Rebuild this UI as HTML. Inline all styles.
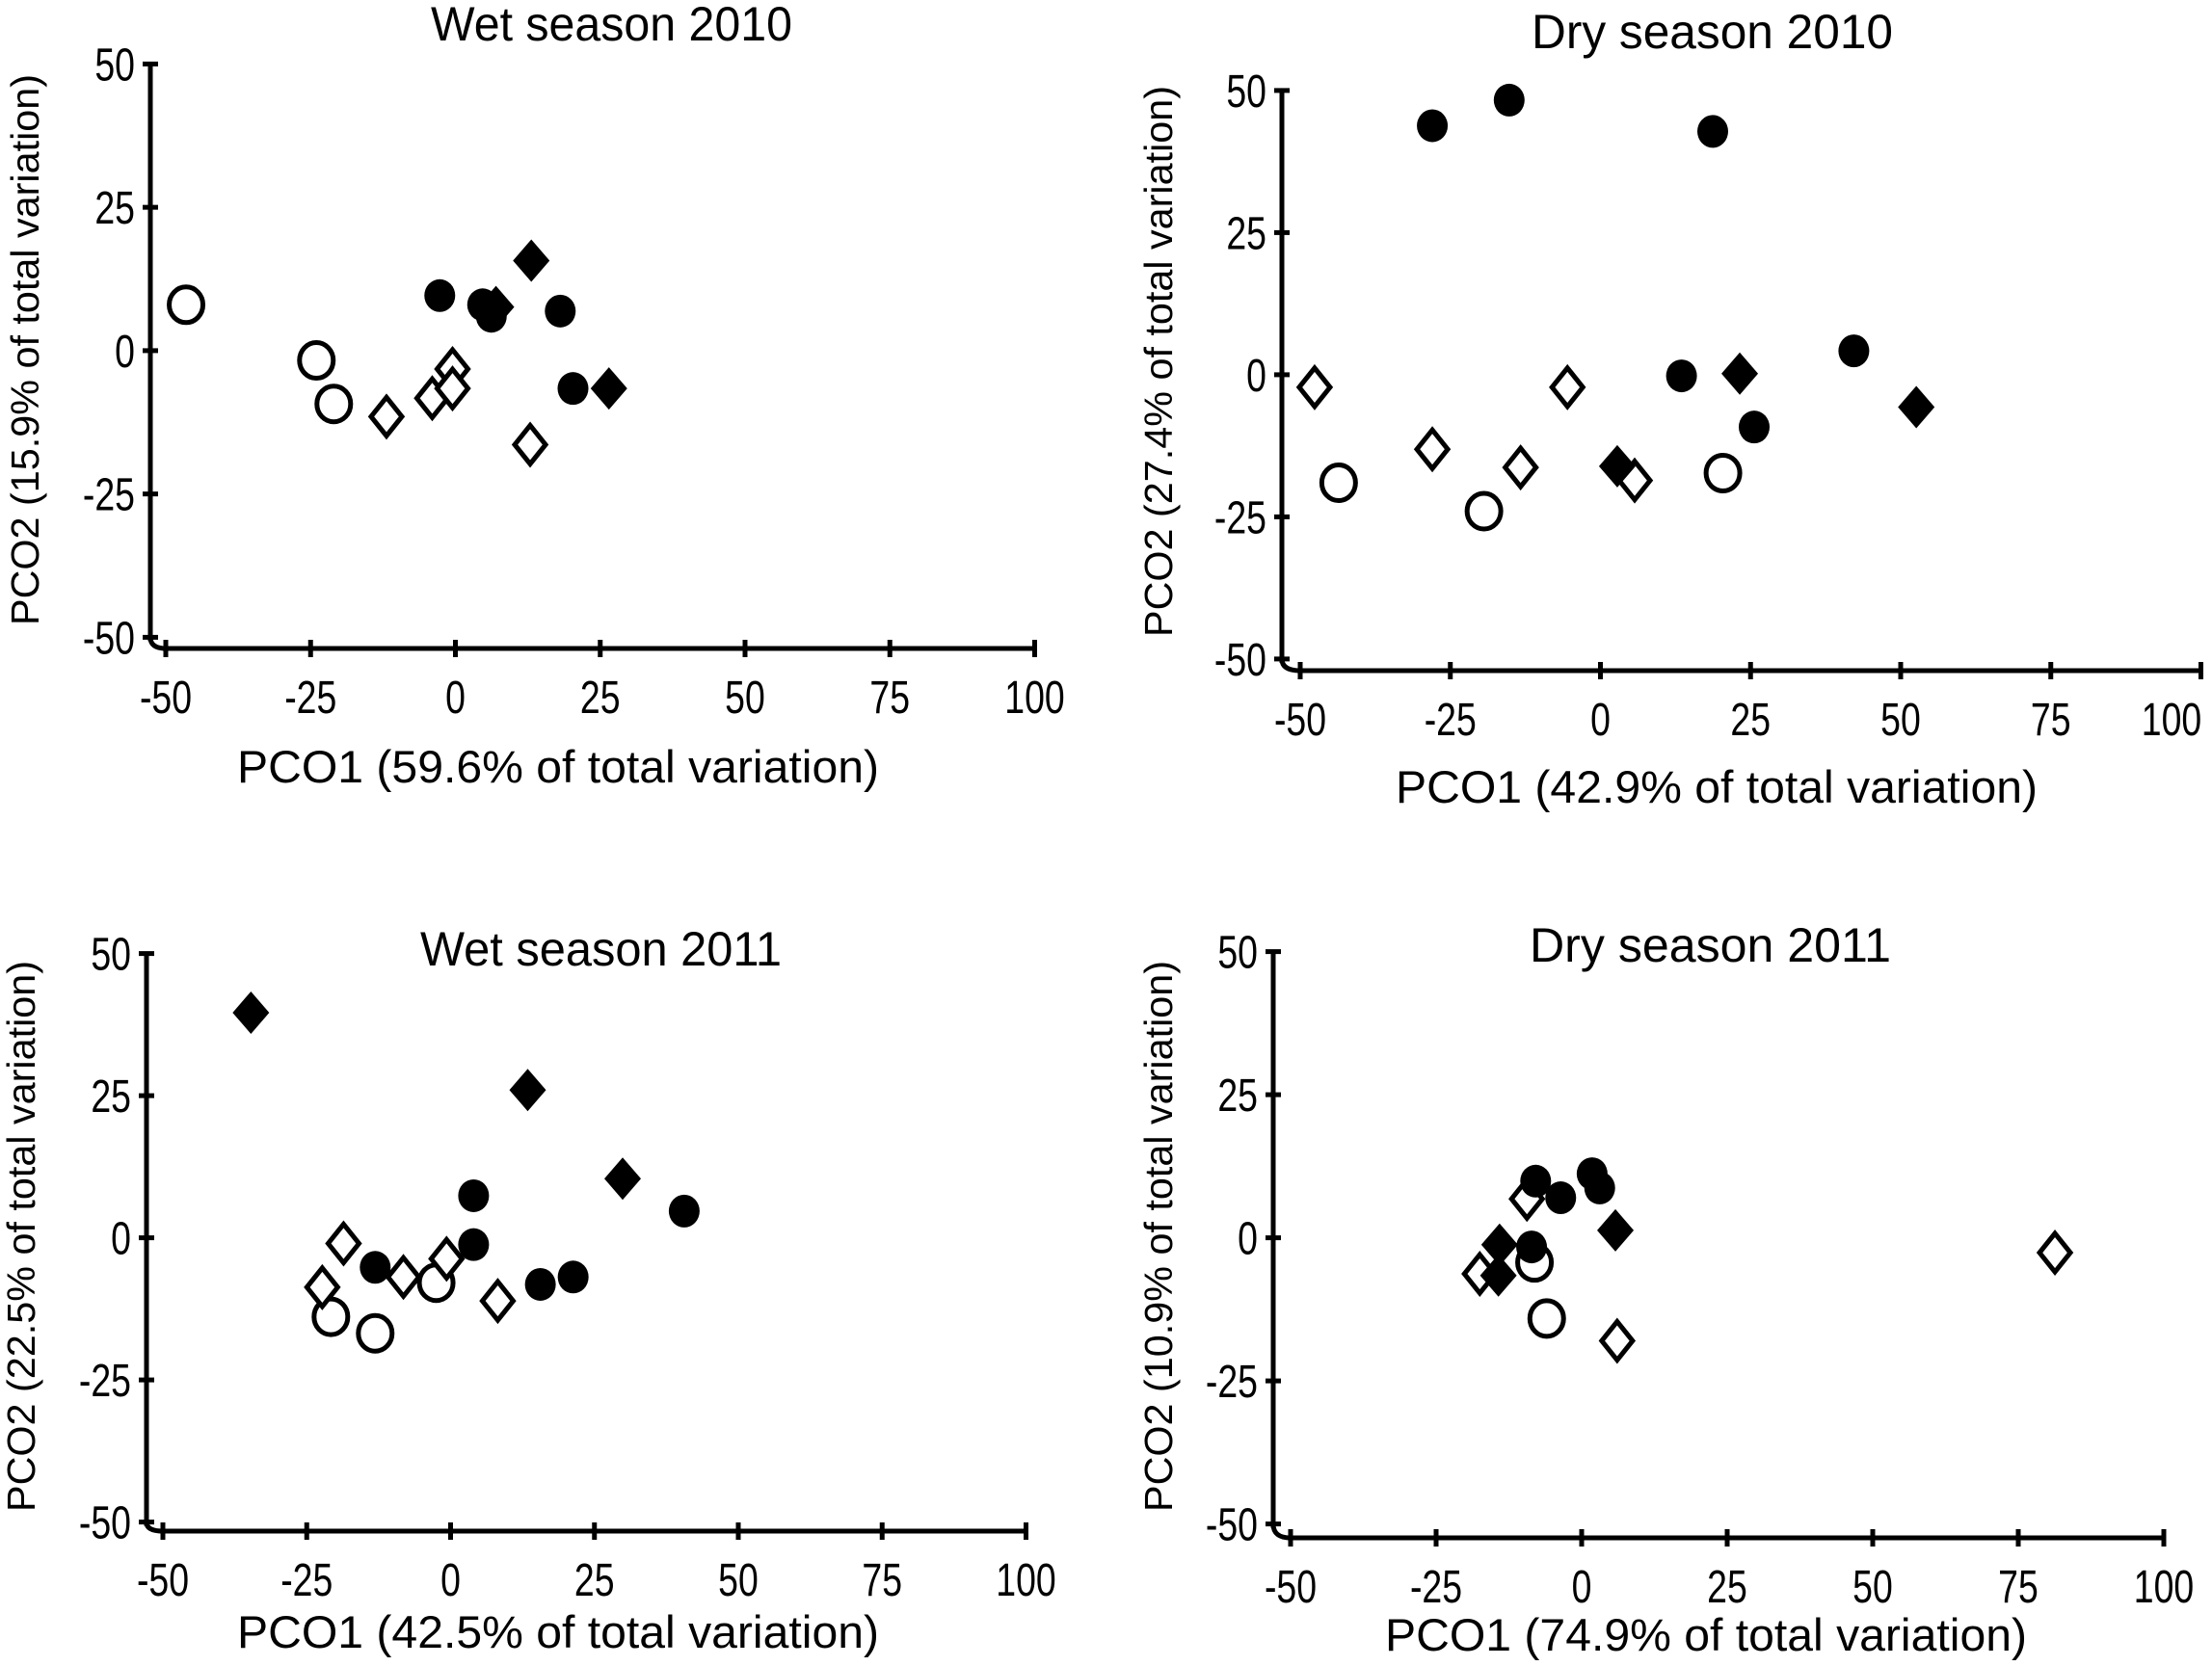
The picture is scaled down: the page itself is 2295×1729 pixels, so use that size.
<!DOCTYPE html>
<html><head><meta charset="utf-8"><style>
html,body{margin:0;padding:0;background:#fff;}
svg{display:block;}
text{font-family:"Liberation Sans",sans-serif;fill:#000;}
</style></head><body>
<svg id="fig" width="2295" height="1729" viewBox="0 0 2295 1729" xmlns="http://www.w3.org/2000/svg"></svg>
<script>
const xTicks = [-50,-25,0,25,50,75,100];
const yTicks = [50,25,0,-25,-50];
const panelTitles = ["Wet season 2010","Dry season 2010","Wet season 2011","Dry season 2011"];
const xTitles = ["PCO1 (59.6% of total variation)","PCO1 (42.9% of total variation)","PCO1 (42.5% of total variation)","PCO1 (74.9% of total variation)"];
const yTitles = ["PCO2 (15.9% of total variation)","PCO2 (27.4% of total variation)","PCO2 (22.5% of total variation)","PCO2 (10.9% of total variation)"];

// Wet 2010
const w10OpenCircleX = [-46.5,-24,-21];
const w10OpenCircleY = [8,-1.7,-9.3];
const w10OpenDiamondX = [-11.9,-4,-0.5,-0.5,12.9];
const w10OpenDiamondY = [-11.5,-8.3,-3.2,-6.6,-16.4];
const w10FilledCircleX = [-2.7,4.7,6.2,18.1,20.3];
const w10FilledCircleY = [9.6,8,6,6.9,-6.6];
const w10FilledDiamondX = [13.1,7,26.5];
const w10FilledDiamondY = [15.7,7.6,-6.6];
// Dry 2010
const d10OpenCircleX = [-43.6,-19.4,20.4];
const d10OpenCircleY = [-19,-24,-17.3];
const d10OpenDiamondX = [-47.6,-28,-13.3,-5.5,5.7];
const d10OpenDiamondY = [-2.2,-13.1,-16.3,-2.2,-18.6];
const d10FilledCircleX = [-28,-15.2,18.7,13.5,25.6,42.2];
const d10FilledCircleY = [43.8,48.3,42.8,-0.2,-9.2,4.2];
const d10FilledDiamondX = [23.2,52.6,2.8];
const d10FilledDiamondY = [0.2,-5.7,-16.1];
// Wet 2011
const w11OpenCircleX = [-20.8,-13.1,-2.5];
const w11OpenCircleY = [-13.9,-16.8,-7.9];
const w11OpenDiamondX = [-18.6,-22.3,-8.2,-0.7,8.2];
const w11OpenDiamondY = [-1,-8.7,-6.9,-3.7,-11.1];
const w11FilledCircleX = [40.6,4,4,-13.1,15.6,21.3];
const w11FilledCircleY = [4.7,7.4,-1.2,-5.2,-8.2,-6.9];
const w11FilledDiamondX = [-34.7,13.4,29.9];
const w11FilledDiamondY = [39.6,26,10.4];
// Dry 2011
const d11OpenCircleX = [-8.1,-6];
const d11OpenCircleY = [-4.3,-14.1];
const d11OpenDiamondX = [-9.4,-17.5,6.1,81.3];
const d11OpenDiamondY = [6.8,-6.3,-18,-2.6];
const d11FilledCircleX = [-7.9,-3.6,1.8,3.1,-8.6];
const d11FilledCircleY = [9.9,7.0,11.2,8.7,-1.6];
const d11FilledDiamondX = [5.8,-14.1,-14.3];
const d11FilledDiamondY = [1.3,-1.2,-6.6];

const NS = "http://www.w3.org/2000/svg";
const svg = document.getElementById("fig");
function mk(tag, attrs, parent){
  const e = document.createElementNS(NS, tag);
  for (const k in attrs) e.setAttribute(k, attrs[k]);
  (parent||svg).appendChild(e);
  return e;
}
const layouts = [
  {ax:156, xm:172, sx:6.01, y0:363.9, sy:5.95, xay:673, tx:634, ty:25, xtx:579, xty:796, ytx:26, yty:363},
  {ax:1330, xm:1349, sx:6.23, y0:388.9, sy:5.9, xay:696, tx:1776, ty:33, xtx:1781, xty:817, ytx:1202, yty:375},
  {ax:152, xm:169, sx:5.97, y0:1284.6, sy:5.9, xay:1589, tx:623, ty:985, xtx:579, xty:1694, ytx:22, yty:1283},
  {ax:1321, xm:1339, sx:6.04, y0:1284.6, sy:5.94, xay:1596, tx:1774, ty:981, xtx:1770, xty:1697, ytx:1202, yty:1283}
];
const series = [
  [w10OpenCircleX,w10OpenCircleY,w10OpenDiamondX,w10OpenDiamondY,w10FilledCircleX,w10FilledCircleY,w10FilledDiamondX,w10FilledDiamondY],
  [d10OpenCircleX,d10OpenCircleY,d10OpenDiamondX,d10OpenDiamondY,d10FilledCircleX,d10FilledCircleY,d10FilledDiamondX,d10FilledDiamondY],
  [w11OpenCircleX,w11OpenCircleY,w11OpenDiamondX,w11OpenDiamondY,w11FilledCircleX,w11FilledCircleY,w11FilledDiamondX,w11FilledDiamondY],
  [d11OpenCircleX,d11OpenCircleY,d11OpenDiamondX,d11OpenDiamondY,d11FilledCircleX,d11FilledCircleY,d11FilledDiamondX,d11FilledDiamondY]
];

layouts.forEach((L, i) => {
  const g = mk("g", {});
  
  
  const X = v => L.xm + (v + 50) * L.sx;
  const Y = v => L.y0 - v * L.sy;

  const t = mk("text", {x:L.tx-187, y:L.ty+17, "font-size":50, textLength:375, lengthAdjust:"spacingAndGlyphs"}, g);
  t.textContent = panelTitles[i];
  
  

  const ya = mk("line", {x1:L.ax, y1:Y(50), x2:L.ax, y2:Y(-50)+4, stroke:"#000", "stroke-width":5}, g);
  
  
  const xa = mk("line", {x1:L.xm-3, y1:L.xay, x2:X(100), y2:L.xay, stroke:"#000", "stroke-width":5}, g);
  
  
  mk("path", {d:`M${L.ax} ${Y(-50)} Q${L.ax} ${L.xay} ${L.xm} ${L.xay}`, stroke:"#000", "stroke-width":5, fill:"none"}, g);

  yTicks.forEach(v => {
    const tk = mk("line", {x1:L.ax-8, y1:Y(v), x2:L.ax+8, y2:Y(v), stroke:"#000", "stroke-width":5}, g);
    
    
    const lb = mk("text", {x:0, y:0, "text-anchor":"end", "font-size":48, transform:`translate(${L.ax-16},${Y(v)+17}) scale(0.78,1)`}, g);
    lb.textContent = v;
    
    
  });
  xTicks.forEach(v => {
    const tk = mk("line", {x1:X(v), y1:L.xay-9, x2:X(v), y2:L.xay+9, stroke:"#000", "stroke-width":5}, g);
    
    
    const lx = Math.min(X(v), 2293 - 40);
    const lb = mk("text", {x:0, y:0, "text-anchor":"middle", "font-size":48, transform:`translate(${lx},${L.xay+67}) scale(0.78,1)`}, g);
    lb.textContent = v;
    
    
  });

  const xt = mk("text", {x:L.xtx-333, y:L.xty+16, "font-size":47, textLength:666, lengthAdjust:"spacingAndGlyphs"}, g);
  xt.textContent = xTitles[i];
  
  
  const yt = mk("text", {x:-286, y:0, "font-size":41, textLength:572, lengthAdjust:"spacingAndGlyphs", transform:`translate(${L.ytx+14},${L.yty}) rotate(-90)`}, g);
  yt.textContent = yTitles[i];
  
  

  const S = series[i];
  S[0].forEach((v, k) => {
    const m = mk("ellipse", {cx:X(v), cy:Y(S[1][k]), rx:17.5, ry:18.5, fill:"#fff", stroke:"#000", "stroke-width":5}, g);
    
    
  });
  S[2].forEach((v, k) => {
    const cx = X(v), cy = Y(S[3][k]);
    const m = mk("polygon", {points:`${cx},${cy-20} ${cx+16},${cy} ${cx},${cy+20} ${cx-16},${cy}`, fill:"#fff", stroke:"#000", "stroke-width":5}, g);
    
    
  });
  S[4].forEach((v, k) => {
    const m = mk("ellipse", {cx:X(v), cy:Y(S[5][k]), rx:16, ry:17, fill:"#000"}, g);
    
    
  });
  S[6].forEach((v, k) => {
    const cx = X(v), cy = Y(S[7][k]);
    const m = mk("polygon", {points:`${cx},${cy-22} ${cx+19},${cy} ${cx},${cy+22} ${cx-19},${cy}`, fill:"#000"}, g);
    
    
  });
});
</script>
</body></html>
